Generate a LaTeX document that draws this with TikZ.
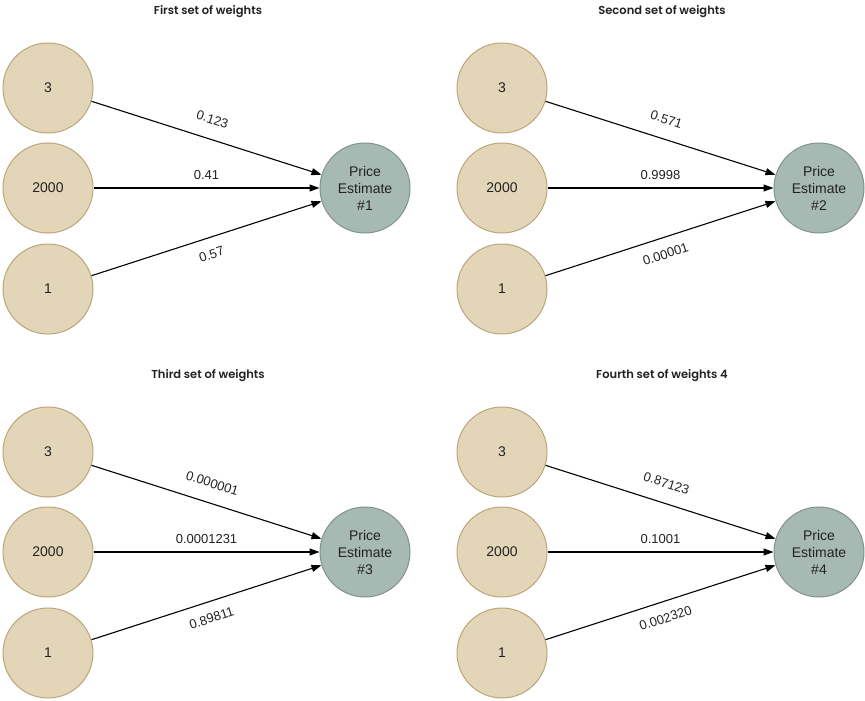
\documentclass[tikz,border=0pt]{standalone}
\usepackage{fontspec}
\setmainfont{Liberation Sans}
\newfontfamily\titlefont{Poppins SemiBold}
\usetikzlibrary{arrows.meta}

\definecolor{sandfill}{HTML}{E3D6B8}
\definecolor{sanddraw}{HTML}{BBA57A}
\definecolor{sagefill}{HTML}{A6B9B2}
\definecolor{sagedraw}{HTML}{7F948D}
\definecolor{inktext}{HTML}{222222}

\begin{document}
\begin{tikzpicture}[x=1pt, y=-1pt,
  input/.style={circle, draw=sanddraw, fill=sandfill, line width=1pt, minimum size=90pt, inner sep=0pt, text=inktext, font=\fontsize{14}{17}\selectfont},
  output/.style={circle, draw=sagedraw, fill=sagefill, line width=1pt, minimum size=90pt, inner sep=0pt, align=center, text=inktext, font=\fontsize{14}{17}\selectfont},
  weight/.style={-{Triangle[length=10pt,width=7pt]}, line width=1.1pt},
  wlabel/.style={sloped, midway, text=inktext, font=\fontsize{13}{15}\selectfont},
  heading/.style={text=inktext, font=\titlefont\fontsize{11.5}{14}\selectfont}]

\useasboundingbox (0,0) rectangle (865,701);

% -------- First set -----------
\begin{scope}[shift={(0,0)}]
\node [heading] (ta) at (208,12) {First set of weights};
\node [input]  (a3)    at (48,88)  {3};
\node [input]  (a2000) at (48,188) {2000};
\node [input]  (a1)    at (48,289) {1};
\node [output] (outa)  at (365,188) {Price\\Estimate\\\#1};
\draw [weight] (a3.-17) -- node [wlabel, above=11pt] {0.123} (outa.163);
\draw [weight] (a2000.east) -- node [wlabel, above=4pt] {0.41} (outa.west);
\draw [weight] (a1.17) -- node [wlabel, below=8pt] {0.57} (outa.197);
\end{scope}

% -------- Second set -----------
\begin{scope}[shift={(454,0)}]
\node [heading] (tb) at (208,12) {Second set of weights};
\node [input]  (b3)    at (48,88)  {3};
\node [input]  (b2000) at (48,188) {2000};
\node [input]  (b1)    at (48,289) {1};
\node [output] (outb)  at (365,188) {Price\\Estimate\\\#2};
\draw [weight] (b3.-17) -- node [wlabel, above=11pt] {0.571} (outb.163);
\draw [weight] (b2000.east) -- node [wlabel, above=4pt] {0.9998} (outb.west);
\draw [weight] (b1.17) -- node [wlabel, below=8pt] {0.00001} (outb.197);
\end{scope}

% -------- Third set -----------
\begin{scope}[shift={(0,364)}]
\node [heading] (tc) at (208,12) {Third set of weights};
\node [input]  (c3)    at (48,88)  {3};
\node [input]  (c2000) at (48,188) {2000};
\node [input]  (c1)    at (48,289) {1};
\node [output] (outc)  at (365,188) {Price\\Estimate\\\#3};
\draw [weight] (c3.-17) -- node [wlabel, above=11pt] {0.000001} (outc.163);
\draw [weight] (c2000.east) -- node [wlabel, above=4pt] {0.0001231} (outc.west);
\draw [weight] (c1.17) -- node [wlabel, below=8pt] {0.89811} (outc.197);
\end{scope}

% -------- Fourth set -----------
\begin{scope}[shift={(454,364)}]
\node [heading] (td) at (208,12) {Fourth set of weights 4};
\node [input]  (d3)    at (48,88)  {3};
\node [input]  (d2000) at (48,188) {2000};
\node [input]  (d1)    at (48,289) {1};
\node [output] (outd)  at (365,188) {Price\\Estimate\\\#4};
\draw [weight] (d3.-17) -- node [wlabel, above=11pt] {0.87123} (outd.163);
\draw [weight] (d2000.east) -- node [wlabel, above=4pt] {0.1001} (outd.west);
\draw [weight] (d1.17) -- node [wlabel, below=8pt] {0.002320} (outd.197);
\end{scope}
\end{tikzpicture}
\end{document}
